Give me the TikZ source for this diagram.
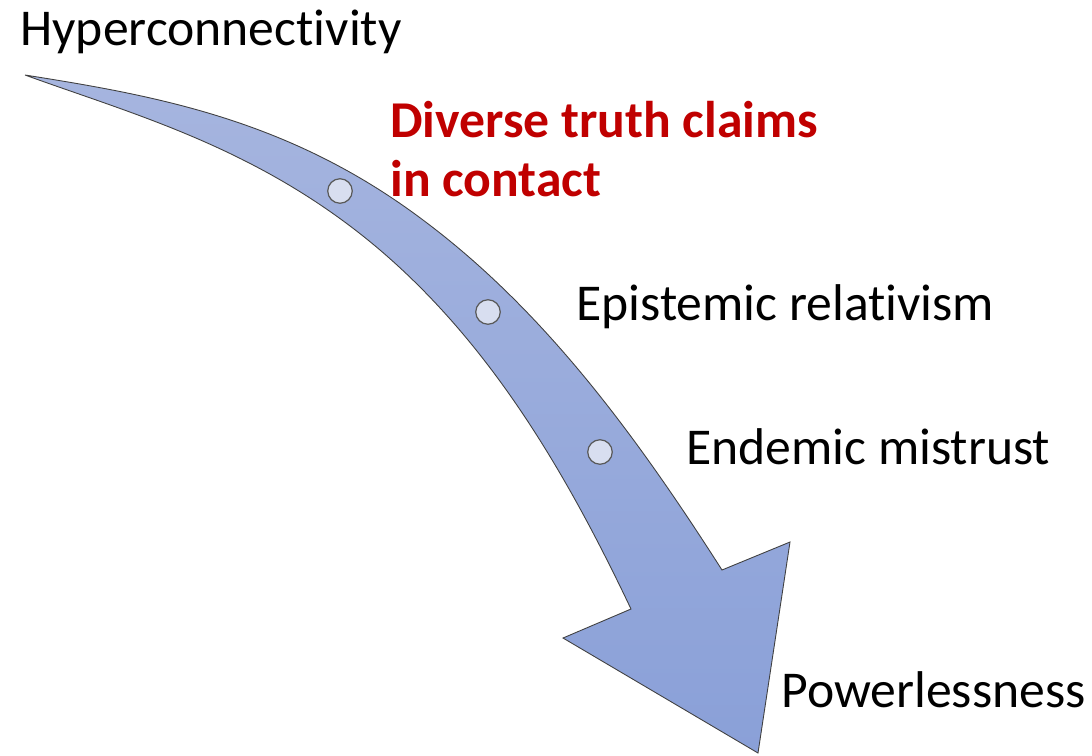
\documentclass[tikz,border=0pt]{standalone}
\usepackage{fontspec}
\setmainfont{Carlito}[Ligatures=NoCommon]

\definecolor{arrowtop}{HTML}{A6B5DF}
\definecolor{arrowbot}{HTML}{8AA0D8}
\definecolor{beadfill}{HTML}{D8DEF0}
\definecolor{claimred}{HTML}{C00000}

\tikzset{
  stage/.style={anchor=base west, inner sep=0pt, font=\fontsize{29.4}{33.5}\selectfont},
  bead/.style={circle, inner sep=0pt, minimum size=0.49cm, fill=beadfill, draw=black!65, line width=0.7pt}
}

\begin{document}
\begin{tikzpicture}[x=0.02cm, y=-0.02cm]
\useasboundingbox (0,0) rectangle (1092,755);
\draw[black!75, line width=0.5pt, top color=arrowtop, bottom color=arrowbot]
  (25,75) .. controls (158,96) and (290,120) .. (423,220)
  .. controls (545,311) and (637,437) .. (722,570)
  -- (790,542) -- (758,753) -- (563,638) -- (631,609)
  .. controls (565,470) and (490,344) .. (380,250)
  .. controls (260,148) and (135,115) .. (25,75) -- cycle;
\node[bead] (b1) at (340,191) {};
\node[bead] (b2) at (488,312) {};
\node[bead] (b3) at (600,452) {};
\node[stage] (hyper) at (20,45) {Hyperconnectivity};
% base of a two-line node sits on its last line
\node[stage, text=claimred, font=\fontsize{29.4}{33.5}\selectfont\bfseries, align=left] (claims) at (390,196) {Diverse truth claims\\in contact};
\node[stage] (epist) at (576,320) {Epistemic relativism};
\node[stage] (endemic) at (686,464) {Endemic mistrust};
\node[stage] (powerless) at (781,707) {Powerlessness};
\end{tikzpicture}
\end{document}
